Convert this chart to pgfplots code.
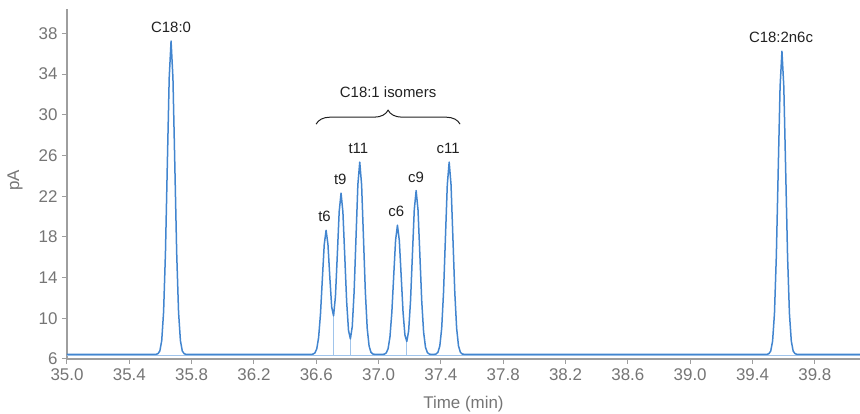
\documentclass[border=0pt]{standalone}
\usepackage{pgfplots}
\pgfplotsset{compat=1.18}
\usepackage{fontspec}
\setmainfont{Liberation Sans}
\usetikzlibrary{decorations.pathreplacing}
\definecolor{curve}{RGB}{66,133,207}
\definecolor{lightc}{RGB}{160,196,235}
\definecolor{axisgray}{RGB}{158,158,158}
\definecolor{labgray}{RGB}{117,117,117}
\definecolor{annot}{RGB}{33,33,33}
\begin{document}
\begin{tikzpicture}
\begin{axis}[
  scale only axis, width=793bp, height=350bp,
  xmin=35, xmax=40.09, ymin=6, ymax=40.4,
  axis x line*=bottom, axis y line*=left,
  axis line style={axisgray, line width=1.3bp},
  tick style={axisgray, line width=1bp},
  tick align=outside, major tick length=5bp,
  xtick={35.0,35.4,35.8,36.2,36.6,37.0,37.4,37.8,38.2,38.6,39.0,39.4,39.8},
  ytick={6,10,14,18,22,26,30,34,38},
  /pgf/number format/assume math mode=true,
  xticklabel style={yshift=-1bp, /pgf/number format/fixed, /pgf/number format/fixed zerofill, /pgf/number format/precision=1},
  ticklabel style={font=\fontsize{17}{20}\selectfont, text=labgray},
  yticklabel style={xshift=-1bp},
  xlabel={Time (min)}, ylabel={pA},
  label style={font=\fontsize{17}{20}\selectfont, text=labgray},
  xlabel style={at={(axis description cs:0.5,0)}, anchor=center, yshift=-45bp},
  ylabel style={at={(axis description cs:-0.0656,0.51)}, anchor=center},
  clip=false,
]
\addplot[lightc, line width=0.8bp] coordinates {(35,6.36) (40.09,6.36)};
\addplot[lightc, line width=0.8bp] coordinates {(36.711,6.36) (36.711,10.24)};
\addplot[lightc, line width=0.8bp] coordinates {(36.819,6.36) (36.819,7.98)};
\addplot[lightc, line width=0.8bp] coordinates {(37.181,6.36) (37.181,7.72)};
\addplot[curve, line width=1.5bp, line join=round] coordinates {
(35.000,6.45) (35.560,6.45)
(35.572,6.46) (35.584,6.52) (35.596,6.79) (35.608,7.80) (35.620,10.62) (35.632,16.45) (35.644,25.13) (35.656,33.63)
(35.668,37.25)
(35.680,33.63) (35.692,25.13) (35.704,16.45) (35.716,10.62) (35.728,7.80) (35.740,6.79) (35.752,6.52) (35.764,6.46) (35.776,6.45)
(36.555,6.45)
(36.567,6.45) (36.579,6.48) (36.591,6.59) (36.603,6.99) (36.615,8.10) (36.627,10.41) (36.639,13.85) (36.651,17.22)
(36.663,18.65) (36.675,17.26) (36.687,14.03) (36.699,11.11) (36.711,10.24) (36.723,12.14) (36.735,16.20) (36.747,20.47)
(36.759,22.30) (36.771,20.44) (36.783,16.07) (36.795,11.64) (36.807,8.80) (36.819,7.98) (36.831,9.19) (36.843,12.63)
(36.855,17.92) (36.867,23.13) (36.879,25.35) (36.891,23.13) (36.903,17.91) (36.915,12.59) (36.927,9.01) (36.939,7.28)
(36.951,6.66) (36.963,6.49) (36.975,6.46) (36.987,6.45)
(37.025,6.45) (37.037,6.48) (37.049,6.59) (37.061,7.01) (37.073,8.17) (37.085,10.57) (37.097,14.15) (37.109,17.66)
(37.121,19.15) (37.133,17.66) (37.145,14.16) (37.157,10.61) (37.169,8.35) (37.181,7.72) (37.193,8.77) (37.205,11.71)
(37.217,16.21) (37.229,20.66) (37.241,22.55) (37.253,20.66) (37.265,16.21) (37.277,11.68) (37.289,8.63) (37.301,7.16)
(37.313,6.63) (37.325,6.49) (37.337,6.45)
(37.345,6.45) (37.357,6.46) (37.369,6.49) (37.381,6.66) (37.393,7.28) (37.405,9.01) (37.417,12.59) (37.429,17.91)
(37.441,23.13) (37.453,25.35) (37.465,23.13) (37.477,17.91) (37.489,12.59) (37.501,9.01) (37.513,7.28) (37.525,6.66)
(37.537,6.49) (37.549,6.46) (37.561,6.45)
(39.481,6.45) (39.493,6.46) (39.505,6.52) (39.517,6.78) (39.529,7.76) (39.541,10.48) (39.553,16.13) (39.565,24.52)
(39.577,32.75) (39.589,36.25) (39.601,32.75) (39.613,24.52) (39.625,16.13) (39.637,10.48) (39.649,7.76) (39.661,6.78)
(39.673,6.52) (39.685,6.46) (39.697,6.45) (40.090,6.45)
};
\begin{scope}[every node/.style={font=\fontsize{15}{18}\selectfont, text=annot, anchor=south, inner sep=0pt, yshift=8bp}]
\node at (axis cs:35.668,37.25) {C18:0};
\node at (axis cs:36.653,18.65) {t6};
\node at (axis cs:36.754,22.30) {t9};
\node at (axis cs:36.870,25.35) {t11};
\node at (axis cs:37.114,19.15) {c6};
\node at (axis cs:37.241,22.55) {c9};
\node at (axis cs:37.447,25.35) {c11};
\node at (axis cs:39.583,36.25) {C18:2n6c};
\end{scope}
\draw[annot, line width=1bp, decorate, decoration={brace, amplitude=14bp}]
  (axis cs:36.599,29.08) -- (axis cs:37.523,29.08);
\node[font=\fontsize{15}{18}\selectfont, text=annot] at (axis cs:37.061,32.23) {C18:1 isomers};
\end{axis}
\pgfresetboundingbox
\useasboundingbox ([shift={(-67bp,-55bp)}]current axis.south west) rectangle ([shift={(0bp,9bp)}]current axis.north east);
\end{tikzpicture}
\end{document}
